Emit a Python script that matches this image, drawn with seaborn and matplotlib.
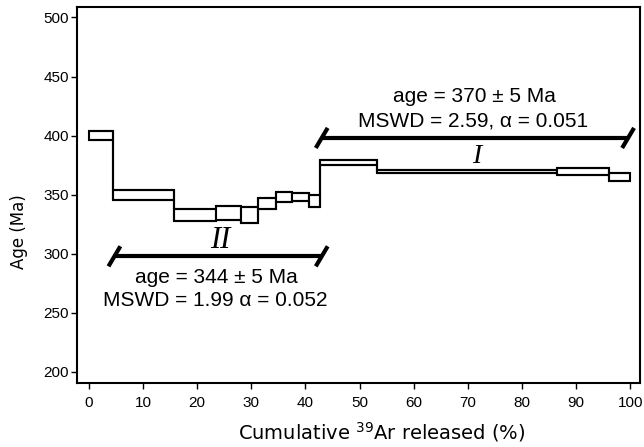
import matplotlib
matplotlib.use("Agg")
import matplotlib.pyplot as plt
import seaborn as sns
import numpy as np
import pandas as pd

# Step-heating data (cumulative 39Ar %, age, 1-sigma half-height)
cum_left = [0.0, 4.5, 15.8, 23.5, 28.0, 31.3, 34.6, 37.5, 40.6, 42.7, 53.3, 86.5, 96.0]
cum_right = [4.5, 15.8, 23.5, 28.0, 31.3, 34.6, 37.5, 40.6, 42.7, 53.3, 86.5, 96.0, 100.0]
ages = [400.1, 349.7, 332.8, 334.8, 332.7, 342.6, 348.0, 347.7, 344.6, 377.4, 369.7, 369.7, 364.8]
errs = [3.7, 4.5, 5.4, 6.0, 7.0, 4.7, 4.2, 3.4, 5.0, 2.1, 1.4, 2.8, 3.5]

# Plateau bars
plateau_names = ["I", "II"]
plateau_x0 = [43.0, 4.7]
plateau_x1 = [99.6, 43.0]
plateau_y = [398.0, 297.8]
plateau_text1 = ["age = 370 \u00b1 5 Ma", "age = 344 \u00b1 5 Ma"]
plateau_text2 = ["MSWD = 2.59, \u03b1 = 0.051", "MSWD = 1.99 \u03b1 = 0.052"]

x_ticks = [0, 10, 20, 30, 40, 50, 60, 70, 80, 90, 100]
y_ticks = [200, 250, 300, 350, 400, 450, 500]

sns.set_style("ticks")
plt.rcParams["font.family"] = ["Liberation Sans", "DejaVu Sans"]
plt.rcParams["text.color"] = "black"
plt.rcParams["axes.labelcolor"] = "black"
plt.rcParams["xtick.color"] = "black"
plt.rcParams["ytick.color"] = "black"

fig = plt.figure(figsize=(6.44, 4.47), dpi=100)
ax = fig.add_axes([0.120, 0.1425, 0.8738, 0.8425])

df = pd.DataFrame({
    "left": cum_left, "right": cum_right, "age": ages, "err": errs,
})
df["lo"] = df["age"] - df["err"]
df["hi"] = df["age"] + df["err"]

# boxes
ax.bar(df["left"], 2 * df["err"], width=df["right"] - df["left"], bottom=df["lo"],
       align="edge", facecolor="white", edgecolor="black", linewidth=1.5, zorder=2)

# upper and lower envelopes as step lines
env = pd.DataFrame({
    "x": list(cum_left) + [cum_right[-1]],
    "hi": list(df["hi"]) + [df["hi"].iloc[-1]],
    "lo": list(df["lo"]) + [df["lo"].iloc[-1]],
})
sns.lineplot(data=env, x="x", y="hi", ax=ax, color="black", linewidth=1.5,
             drawstyle="steps-post", zorder=3)
sns.lineplot(data=env, x="x", y="lo", ax=ax, color="black", linewidth=1.5,
             drawstyle="steps-post", zorder=3)

# plateau bars with slanted end marks
dx, dy = 1.1, 8.5
for name, x0, x1, y in zip(plateau_names, plateau_x0, plateau_x1, plateau_y):
    ax.plot([x0, x1], [y, y], color="black", linewidth=3, solid_capstyle="butt", zorder=4)
    for xe in (x0, x1):
        ax.plot([xe - dx, xe + dx], [y - dy, y + dy], color="black", linewidth=3,
                solid_capstyle="butt", zorder=4)

# labels for plateau I
ax.text(71.7, 382.5, plateau_names[0], family=["Liberation Serif"], style="italic",
        fontsize=20, ha="center", va="center")
ax.text(71.3, 433.5, plateau_text1[0], fontsize=15, ha="center", va="center")
ax.text(71.0, 412.5, plateau_text2[0], fontsize=15, ha="center", va="center")
# labels for plateau II
ax.text(24.2, 311.0, plateau_names[1], family=["Liberation Serif"], style="italic",
        fontsize=22, ha="center", va="center")
ax.text(23.6, 279.5, plateau_text1[1], fontsize=15, ha="center", va="center")
ax.text(23.3, 260.0, plateau_text2[1], fontsize=15, ha="center", va="center")

ax.set_xlim(-2.16, 101.8)
ax.set_ylim(190.3, 509.1)
ax.set_xticks(x_ticks)
ax.set_yticks(y_ticks)
ax.tick_params(axis="both", direction="out", length=4.3, width=1.0, labelsize=11,
               color="black", labelcolor="black")
ax.tick_params(axis="x", pad=5)
ax.tick_params(axis="y", pad=1.5)
for s in ax.spines.values():
    s.set_linewidth(1.5)
    s.set_color("black")

ax.set_xlabel(r"Cumulative $^{\mathregular{39}}$Ar released (%)", family=["DejaVu Sans"],
              fontsize=14)
ax.set_ylabel("Age (Ma)", family=["DejaVu Sans"], fontsize=12)
ax.xaxis.set_label_coords(0.541, -0.0975)
ax.yaxis.set_label_coords(-0.0876, 0.4017)

fig.savefig("out.png", dpi=100)
